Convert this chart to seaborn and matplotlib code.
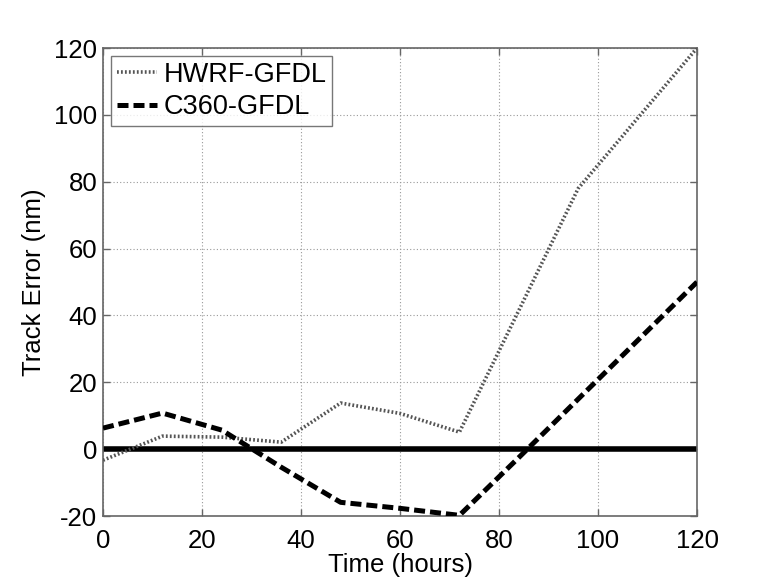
import numpy as np
import pandas as pd
import matplotlib
matplotlib.use("Agg")
import matplotlib.pyplot as plt
import seaborn as sns

hours = [0, 12, 24, 36, 48, 60, 72, 84, 96, 108, 120]
hwrf_gfdl = [-3.3, 3.9, 3.6, 2.1, 13.8, 10.7, 5.1, 41.5, 78, 99, 120]
c360_gfdl = [6.3, 10.8, 5.7, -5.4, -15.9, -17.7, -19.8, -2.5, 15, 32.5, 50]
x_ticks = [0, 20, 40, 60, 80, 100, 120]
y_ticks = [-20, 0, 20, 40, 60, 80, 100, 120]

sns.set_style("white")
plt.rcParams['font.family'] = ['Liberation Sans', 'DejaVu Sans']
plt.rcParams['text.color'] = 'black'
plt.rcParams['axes.labelcolor'] = 'black'
plt.rcParams['xtick.color'] = 'black'
plt.rcParams['ytick.color'] = 'black'

df = pd.DataFrame({"hours": hours, "HWRF-GFDL": hwrf_gfdl, "C360-GFDL": c360_gfdl})

fig = plt.figure(figsize=(7.7, 5.8), dpi=100)
ax = fig.add_axes([0.1338, 0.1103, 0.7714, 0.8069])

sns.lineplot(data=df, x="hours", y="HWRF-GFDL", ax=ax, color="#555555",
             linewidth=2.6, linestyle=(0, (0.5, 0.6)), label="HWRF-GFDL", zorder=3)
sns.lineplot(data=df, x="hours", y="C360-GFDL", ax=ax, color="black",
             linewidth=3.6, linestyle=(0, (2.2, 1.0)), label="C360-GFDL", zorder=4)
ax.axhline(0, color="black", linewidth=4, zorder=2)

ax.set_xlim(0, 120)
ax.set_ylim(-20, 120)
ax.set_xticks(x_ticks)
ax.set_yticks(y_ticks)
ax.set_xticklabels([str(v) for v in x_ticks], fontsize=18.5)
ax.set_yticklabels([str(v) for v in y_ticks], fontsize=18.5)
ax.tick_params(direction="in", length=5, width=1, color="#666666", labelcolor="black",
               top=True, right=True, bottom=True, left=True)
ax.tick_params(axis="x", pad=9)
ax.tick_params(axis="y", pad=4)
ax.grid(True, linestyle=(0, (1, 2)), color="#999999", linewidth=0.8)
for sp in ax.spines.values():
    sp.set_color("#666666")
    sp.set_linewidth(1.2)

ax.set_xlabel("Time (hours)", fontsize=18.5, labelpad=0, color="black")
ax.set_ylabel("Track Error (nm)", fontsize=18.5, labelpad=6, color="black")

leg = ax.legend(loc="upper left", fontsize=19.5, frameon=True, fancybox=False,
                handlelength=1.5, handletextpad=0.25, borderpad=0.2,
                labelspacing=0.25, borderaxespad=0.3)
leg.get_frame().set_edgecolor("#555555")
leg.get_frame().set_linewidth(1.0)
for t in leg.get_texts():
    t.set_color("black")

fig.savefig("out.png", dpi=100)
